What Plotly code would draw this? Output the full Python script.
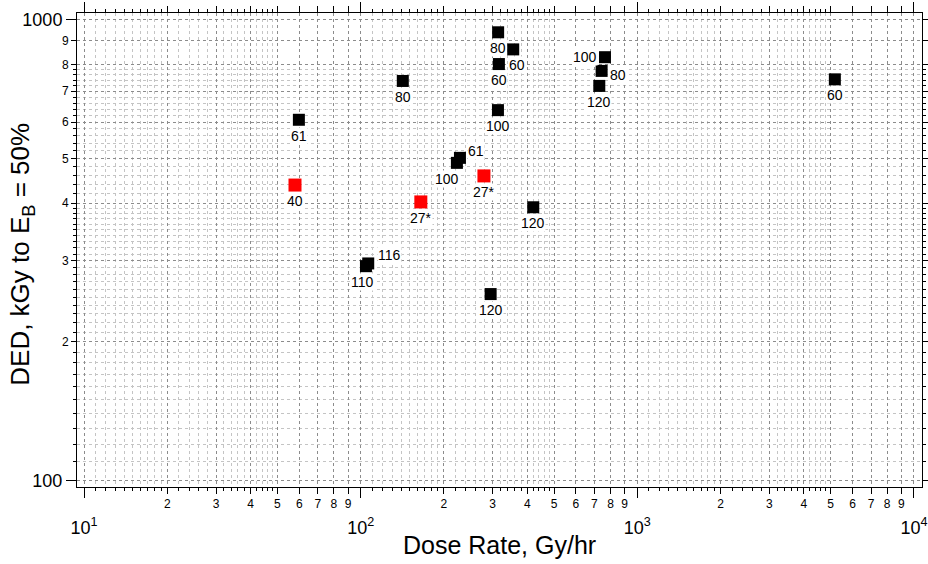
import math
import plotly.graph_objects as go

# ---------------- data ----------------
dose_rate = [59.8, 57.9, 142, 165, 104.5, 106.5, 228.5, 222.8, 279, 314, 356, 316, 313.5, 420.6, 295, 764, 743, 728.7, 5176]
ded = [607, 438, 737, 402.6, 292, 296, 501.8, 489.4, 458.5, 940, 863, 802, 637, 392, 254, 830, 775, 719, 743]
labels = ["61", "40", "80", "27*", "110", "116", "61", "100", "27*", "80", "60", "60", "100", "120", "120", "100", "80", "120", "60"]
is_red = [False, True, False, True, False, False, False, False, True, False, False, False, False, False, False, False, False, False, False]

x_decades = [10, 100, 1000, 10000]
x_decade_text = ["10<sup>1</sup>", "10<sup>2</sup>", "10<sup>3</sup>", "10<sup>4</sup>"]
y_decades = [100, 1000]
y_decade_text = ["100", "1000"]
digits = [2, 3, 4, 5, 6, 7, 8, 9]
x_fine = [1.1, 1.2, 1.3, 1.4, 1.5, 1.6, 1.7, 1.8, 1.9, 2.2, 2.4, 2.6, 2.8, 3.2, 3.4, 3.6, 3.8, 4.2, 4.4, 4.6, 4.8]
y_fine = [1.1, 1.2, 1.3, 1.4, 1.5, 1.6, 1.7, 1.8, 1.9, 2.1, 2.2, 2.3, 2.4, 2.5, 2.6, 2.7, 2.8, 2.9,
          3.1, 3.2, 3.3, 3.4, 3.5, 3.6, 3.7, 3.8, 3.9, 4.2, 4.4, 4.6, 4.8, 5.2, 5.4, 5.6, 5.8,
          6.2, 6.4, 6.6, 6.8, 7.2, 7.4, 7.6, 7.8]
x_title = "Dose Rate, Gy/hr"
y_title = "DED, kGy to E<sub>B</sub> = 50%"

# ---------------- style ----------------
FONT = "Liberation Sans, Arial, sans-serif"
# label placement per point index: (xanchor, yanchor, xshift, yshift)
BELOW = ("center", "top", 0, -7)
placement = {i: BELOW for i in range(len(labels))}
placement[4] = ("center", "top", -3, -7)
placement[5] = ("left", "middle", 9, 8)
placement[6] = ("left", "middle", 7, 7)
placement[7] = ("center", "top", -10, -7)
placement[10] = ("center", "top", 4, -7)
placement[15] = ("right", "middle", -7, 0)
placement[16] = ("left", "middle", 7, -4)

x_major_vals = [k * d for d in x_decades[:-1] for k in digits]
x_major_text = [str(k) for d in x_decades[:-1] for k in digits]
x_minor_vals = [f * d for d in x_decades[:-1] for f in x_fine]

y_major_vals = [k * 100 for k in digits]
y_major_text = [str(k) for k in digits]
y_minor_vals = [f * 100 for f in y_fine]

xr = [0.9747, 4.029]
yr = [1.986, 3.015]

fig = go.Figure()
# invisible copy on the overlay axes so that the decade axes get drawn
fig.add_trace(go.Scatter(x=dose_rate, y=ded, xaxis="x2", yaxis="y2", mode="markers",
                         marker=dict(size=1, opacity=0), showlegend=False, hoverinfo="skip"))
blk_x = [x for x, r in zip(dose_rate, is_red) if not r]
blk_y = [y for y, r in zip(ded, is_red) if not r]
red_x = [x for x, r in zip(dose_rate, is_red) if r]
red_y = [y for y, r in zip(ded, is_red) if r]
fig.add_trace(go.Scatter(x=blk_x, y=blk_y, mode="markers",
                         marker=dict(symbol="square", size=12, color="black", line=dict(width=0)),
                         showlegend=False, hoverinfo="x+y"))
fig.add_trace(go.Scatter(x=red_x, y=red_y, mode="markers",
                         marker=dict(symbol="square", size=13, color="#ff0000", line=dict(width=0)),
                         showlegend=False, hoverinfo="x+y"))

for i, (x, y, t) in enumerate(zip(dose_rate, ded, labels)):
    xa, ya, xs, ys = placement[i]
    fig.add_annotation(x=math.log10(x), y=math.log10(y), xref="x", yref="y", text=t,
                       showarrow=False, xanchor=xa, yanchor=ya,
                       xshift=xs, yshift=ys, bgcolor="white", borderpad=0,
                       font=dict(family=FONT, size=14, color="black"))

# axis titles
fig.add_annotation(x=0.5, y=0, xref="paper", yref="paper", text=x_title, showarrow=False,
                   xanchor="center", yanchor="middle", yshift=-58,
                   font=dict(family=FONT, size=25, color="black"))
fig.add_annotation(x=0, y=0.49, xref="paper", yref="paper", text=y_title, showarrow=False,
                   xanchor="center", yanchor="middle", xshift=-55, textangle=-90,
                   font=dict(family=FONT, size=26, color="black"))

common = dict(type="log", showline=True, linecolor="black", linewidth=1, mirror="ticks",
              ticks="outside", tickcolor="black", tickwidth=1, zeroline=False, automargin=False)
grid_main = dict(showgrid=True, gridcolor="#8c8c8c", griddash="dot", gridwidth=1)

fig.update_layout(
    width=928, height=564,
    margin=dict(l=77, r=6, t=13, b=77),
    paper_bgcolor="white", plot_bgcolor="white",
    font=dict(family=FONT, color="black"),
    xaxis=dict(**common, **grid_main, range=xr, tickmode="array", tickvals=x_major_vals,
               ticktext=x_major_text, ticklen=6, tickfont=dict(size=12),
               minor=dict(tickmode="array", tickvals=x_minor_vals, ticks="outside", ticklen=3,
                          tickcolor="black", showgrid=True, gridcolor="#c4c4c4", griddash="dot")),
    xaxis2=dict(**common, **grid_main, range=xr, overlaying="x", side="bottom", anchor="y2",
                tickmode="array", tickvals=x_decades, ticktext=x_decade_text,
                ticklen=10, tickfont=dict(size=18), ticklabelstandoff=14),
    yaxis=dict(**common, **grid_main, range=yr, tickmode="array", tickvals=y_major_vals,
               ticktext=y_major_text, ticklen=5, tickfont=dict(size=12),
               minor=dict(tickmode="array", tickvals=y_minor_vals, ticks="outside", ticklen=3,
                          tickcolor="black", showgrid=True, gridcolor="#c4c4c4", griddash="dot")),
    yaxis2=dict(**common, **grid_main, range=yr, overlaying="y", side="left", anchor="x2",
                tickmode="array", tickvals=y_decades, ticktext=y_decade_text,
                ticklen=10, tickfont=dict(size=18)),
)

fig.write_html("out.html", config={"displayModeBar": False},
               post_script="document.body.style.margin='0';")
